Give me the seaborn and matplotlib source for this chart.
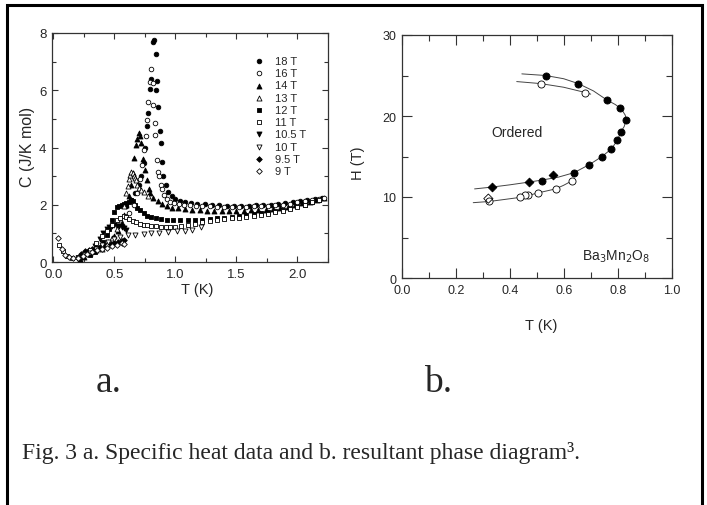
import numpy as np
import pandas as pd
import matplotlib
matplotlib.use("Agg")
import matplotlib.pyplot as plt
import matplotlib.patches as mpatches
from matplotlib.ticker import MultipleLocator
import seaborn as sns

sns.set_style("ticks")
plt.rcParams['font.family'] = ['Liberation Sans', 'DejaVu Sans']

# ---------------- Panel a: specific heat data ----------------
legend_labels = ["18 T", "16 T", "14 T", "13 T", "12 T", "11 T", "10.5 T", "10 T", "9.5 T", "9 T"]

t18 = [0.60, 0.64, 0.67, 0.70, 0.72, 0.74, 0.755, 0.77, 0.776, 0.79, 0.80, 0.815, 0.822, 0.838, 0.844,
       0.849, 0.857, 0.871, 0.879, 0.89, 0.90, 0.92, 0.94, 0.97, 1.00, 1.04, 1.08, 1.13, 1.18, 1.24,
       1.30, 1.36, 1.42, 1.48, 1.54, 1.60, 1.66, 1.72, 1.78, 1.84, 1.90, 1.96, 2.02, 2.08, 2.14, 2.20]
c18 = [1.95, 2.15, 2.40, 2.70, 3.00, 3.45, 4.00, 4.75, 5.20, 6.05, 6.40, 7.70, 7.75, 7.27, 6.01,
       6.34, 5.40, 4.59, 4.17, 3.50, 3.00, 2.70, 2.45, 2.30, 2.20, 2.12, 2.08, 2.05, 2.03, 2.01,
       2.00, 1.98, 1.97, 1.96, 1.96, 1.97, 1.98, 1.99, 2.00, 2.02, 2.05, 2.08, 2.12, 2.16, 2.20, 2.25]

t16 = [0.62, 0.66, 0.69, 0.71, 0.73, 0.745, 0.76, 0.77, 0.78, 0.79, 0.803, 0.816, 0.818, 0.833, 0.836,
       0.85, 0.86, 0.87, 0.88, 0.89, 0.91, 0.93, 0.96, 0.99, 1.03, 1.07, 1.12, 1.17, 1.22, 1.28,
       1.34, 1.40, 1.46, 1.52, 1.58, 1.64, 1.70, 1.76, 1.82, 1.88, 1.94, 2.00, 2.06, 2.12, 2.18, 2.22]
c16 = [1.70, 2.00, 2.40, 2.90, 3.40, 3.90, 4.40, 4.95, 5.60, 6.30, 6.75, 6.27, 5.49, 4.85, 4.44,
       3.55, 3.15, 3.00, 2.70, 2.55, 2.35, 2.20, 2.10, 2.05, 2.02, 2.00, 1.98, 1.97, 1.96, 1.94,
       1.93, 1.92, 1.92, 1.92, 1.93, 1.94, 1.95, 1.96, 1.98, 2.00, 2.04, 2.08, 2.12, 2.16, 2.20, 2.25]

t14 = [0.22, 0.25, 0.30, 0.35, 0.40, 0.45, 0.50, 0.53, 0.56, 0.58, 0.60, 0.62, 0.64, 0.653, 0.665,
       0.68, 0.69, 0.70, 0.71, 0.72, 0.735, 0.75, 0.765, 0.784, 0.795, 0.82, 0.857, 0.89, 0.93, 0.97,
       1.02, 1.08, 1.14, 1.20, 1.26, 1.32, 1.38, 1.44, 1.50, 1.56, 1.62, 1.68, 1.74, 1.80, 1.86, 1.92,
       1.98, 2.04, 2.10, 2.16, 2.22]
c14 = [0.12, 0.18, 0.30, 0.42, 0.55, 0.70, 0.90, 1.10, 1.35, 1.65, 2.00, 2.30, 2.70, 3.10, 3.62,
       4.10, 4.30, 4.50, 4.40, 4.15, 3.60, 3.20, 2.85, 2.55, 2.40, 2.25, 2.12, 2.02, 1.95, 1.90,
       1.87, 1.84, 1.82, 1.80, 1.79, 1.78, 1.78, 1.78, 1.78, 1.79, 1.80, 1.81, 1.82, 1.84, 1.87, 1.92,
       1.98, 2.05, 2.10, 2.16, 2.22]

t13 = [0.40, 0.44, 0.48, 0.52, 0.55, 0.58, 0.60, 0.61, 0.62, 0.63, 0.64, 0.65, 0.66, 0.67, 0.68,
       0.69, 0.70, 0.72, 0.747, 0.78]
c13 = [0.45, 0.62, 0.85, 1.15, 1.50, 1.95, 2.40, 2.65, 2.90, 3.05, 3.15, 3.10, 3.00, 2.95, 2.85,
       2.70, 2.60, 2.50, 2.45, 2.30]

t12 = [0.30, 0.34, 0.38, 0.41, 0.44, 0.46, 0.48, 0.50, 0.52, 0.54, 0.56, 0.58, 0.60, 0.62, 0.64,
       0.655, 0.67, 0.69, 0.71, 0.74, 0.77, 0.80, 0.84, 0.88, 0.93, 0.98, 1.04, 1.10, 1.16, 1.22,
       1.28, 1.34, 1.40, 1.46, 1.52, 1.58, 1.64, 1.70, 1.76, 1.82, 1.88, 1.94, 2.00, 2.06, 2.12, 2.18]
c12 = [0.25, 0.35, 0.50, 0.70, 0.95, 1.15, 1.45, 1.75, 1.92, 1.95, 1.98, 2.02, 2.05, 2.10, 2.15,
       2.12, 2.00, 1.90, 1.80, 1.70, 1.62, 1.57, 1.53, 1.50, 1.48, 1.46, 1.46, 1.46, 1.47, 1.48,
       1.50, 1.52, 1.55, 1.57, 1.60, 1.63, 1.66, 1.70, 1.74, 1.78, 1.83, 1.88, 1.94, 2.00, 2.08, 2.15]

t11 = [0.05, 0.08, 0.11, 0.15, 0.20, 0.25, 0.30, 0.35, 0.40, 0.44, 0.48, 0.52, 0.55, 0.58, 0.60,
       0.62, 0.65, 0.68, 0.71, 0.74, 0.77, 0.80, 0.84, 0.88, 0.92, 0.96, 1.00, 1.05, 1.10, 1.16,
       1.22, 1.28, 1.34, 1.40, 1.46, 1.52, 1.58, 1.64, 1.70, 1.76, 1.82, 1.88, 1.94, 2.00, 2.06,
       2.12, 2.18]
c11 = [0.60, 0.38, 0.22, 0.15, 0.18, 0.28, 0.42, 0.65, 0.90, 1.10, 1.28, 1.45, 1.55, 1.60, 1.56,
       1.50, 1.42, 1.38, 1.33, 1.30, 1.28, 1.27, 1.25, 1.24, 1.23, 1.23, 1.24, 1.26, 1.30, 1.34,
       1.38, 1.42, 1.46, 1.49, 1.52, 1.55, 1.58, 1.61, 1.65, 1.69, 1.74, 1.79, 1.85, 1.92, 2.00,
       2.08, 2.15]

t105 = [0.25, 0.30, 0.34, 0.38, 0.41, 0.44, 0.46, 0.48, 0.50, 0.52, 0.54, 0.56, 0.58, 0.60]
c105 = [0.20, 0.35, 0.55, 0.80, 1.00, 1.15, 1.22, 1.27, 1.28, 1.27, 1.25, 1.22, 1.18, 1.12]

t10 = [0.20, 0.25, 0.30, 0.35, 0.40, 0.45, 0.50, 0.55, 0.61, 0.67, 0.74, 0.80, 0.87, 0.94, 1.01,
       1.08, 1.14, 1.21]
c10 = [0.15, 0.20, 0.32, 0.45, 0.58, 0.70, 0.80, 0.88, 0.93, 0.96, 0.98, 1.00, 1.03, 1.06, 1.08,
       1.10, 1.12, 1.23]

t95 = [0.20, 0.23, 0.26, 0.29, 0.32, 0.35, 0.38, 0.41, 0.44, 0.47, 0.50, 0.53, 0.56, 0.58]
c95 = [0.15, 0.28, 0.38, 0.43, 0.47, 0.50, 0.53, 0.56, 0.60, 0.63, 0.66, 0.70, 0.74, 0.78]

t9 = [0.04, 0.07, 0.10, 0.13, 0.16, 0.20, 0.24, 0.28, 0.32, 0.36, 0.40, 0.44, 0.48, 0.52, 0.56, 0.58]
c9 = [0.85, 0.45, 0.25, 0.17, 0.15, 0.15, 0.20, 0.28, 0.36, 0.42, 0.46, 0.50, 0.55, 0.60, 0.65, 0.62]

series_T = [t18, t16, t14, t13, t12, t11, t105, t10, t95, t9]
series_C = [c18, c16, c14, c13, c12, c11, c105, c10, c95, c9]
markers = ["o", "o", "^", "^", "s", "s", "v", "v", "D", "D"]
filled = [True, False, True, False, True, False, True, False, True, False]
sizes = [11, 11, 13, 13, 10, 10, 13, 13, 8, 8]

# ---------------- Panel b: phase diagram ----------------
pb_filled_circ_T = [0.533, 0.654, 0.759, 0.809, 0.831, 0.811, 0.799, 0.777, 0.742, 0.695, 0.638, 0.521]
pb_filled_circ_H = [25.0, 24.0, 22.0, 21.0, 19.5, 18.0, 17.0, 15.95, 15.0, 14.0, 13.0, 12.0]
pb_filled_diam_T = [0.333, 0.473, 0.562]
pb_filled_diam_H = [11.2, 11.9, 12.7]
pb_open_circ_T = [0.515, 0.680, 0.631, 0.570, 0.504, 0.469, 0.457, 0.438, 0.325]
pb_open_circ_H = [24.0, 22.9, 12.0, 11.0, 10.5, 10.2, 10.2, 9.95, 9.45]
pb_open_diam_T = [0.321]
pb_open_diam_H = [9.8]

guide1_T = [0.445, 0.533, 0.60, 0.654, 0.71, 0.759, 0.792, 0.815, 0.828, 0.831, 0.824, 0.811, 0.799,
            0.777, 0.742, 0.695, 0.638, 0.58, 0.521, 0.473, 0.40, 0.333, 0.27]
guide1_H = [25.2, 25.0, 24.6, 24.0, 23.1, 22.0, 21.4, 20.8, 20.1, 19.5, 18.7, 18.0, 17.0,
            15.95, 15.0, 14.0, 13.0, 12.45, 12.1, 11.85, 11.5, 11.22, 11.0]
guide2_T = [0.426, 0.515, 0.60, 0.68, 0.70]
guide2_H = [24.25, 24.0, 23.55, 22.9, 22.7]
guide3_T = [0.265, 0.325, 0.438, 0.47, 0.504, 0.570, 0.60, 0.631, 0.64]
guide3_H = [9.3, 9.45, 9.95, 10.2, 10.5, 11.0, 11.45, 12.0, 12.2]

# ---------------- Figure ----------------
W, H = 707, 506
fig = plt.figure(figsize=(W / 100, H / 100), dpi=100)
fig.patch.set_facecolor("white")

def fx(px):
    return px / W

def fy(py):
    return 1 - py / H

axA = fig.add_axes([fx(52), fy(263), (328 - 52) / W, (263 - 34) / H])
axB = fig.add_axes([fx(401.7), fy(279), (671.7 - 401.7) / W, (279 - 36) / H])

for i in range(len(series_T)):
    df = pd.DataFrame({"T": series_T[i], "C": series_C[i]})
    face = "black" if filled[i] else "white"
    sns.scatterplot(data=df, x="T", y="C", ax=axA, marker=markers[i], s=sizes[i],
                    color=face, edgecolor="black", linewidth=0.6, label=legend_labels[i],
                    zorder=3 + (0 if filled[i] else 0.5))

axA.set_xlim(-0.01, 2.25)
axA.set_ylim(0, 8)
axA.xaxis.set_major_locator(MultipleLocator(0.5))
axA.xaxis.set_minor_locator(MultipleLocator(0.25))
axA.yaxis.set_major_locator(MultipleLocator(2))
axA.yaxis.set_minor_locator(MultipleLocator(1))
axA.xaxis.set_major_formatter(matplotlib.ticker.FormatStrFormatter("%.1f"))
axA.tick_params(which="both", direction="in", top=True, right=True, labelsize=9.5,
                color="#333333", width=0.8)
axA.tick_params(which="major", length=4.5, pad=4)
axA.tick_params(which="minor", length=3)
axA.set_xlabel("T (K)", fontsize=10.5)
axA.set_ylabel("C (J/K mol)", fontsize=11.5)
axA.xaxis.set_label_coords((197 - 52) / 276, -(283 - 263) / 229)
axA.yaxis.set_label_coords(-(52 - 35) / 276, (263 - 147) / 229)

leg = axA.legend(loc="upper left", bbox_to_anchor=((255 - 52) / 276, (263 - 57) / 229),
                 frameon=False, fontsize=8, handlelength=0.8, handletextpad=1.0,
                 labelspacing=0.2, borderpad=0, borderaxespad=0, markerscale=1.0)

# panel b
sns.lineplot(x=guide1_T, y=guide1_H, sort=False, ax=axB, color="#444444", lw=0.7, zorder=2)
sns.lineplot(x=guide2_T, y=guide2_H, sort=False, ax=axB, color="#444444", lw=0.7, zorder=2)
sns.lineplot(x=guide3_T, y=guide3_H, sort=False, ax=axB, color="#444444", lw=0.7, zorder=2)
sns.scatterplot(x=pb_filled_circ_T, y=pb_filled_circ_H, ax=axB, marker="o", s=26,
                color="black", edgecolor="black", linewidth=0.6, zorder=3)
sns.scatterplot(x=pb_filled_diam_T, y=pb_filled_diam_H, ax=axB, marker="D", s=20,
                color="black", edgecolor="black", linewidth=0.6, zorder=3)
sns.scatterplot(x=pb_open_circ_T, y=pb_open_circ_H, ax=axB, marker="o", s=26,
                color="white", edgecolor="black", linewidth=0.6, zorder=3)
sns.scatterplot(x=pb_open_diam_T, y=pb_open_diam_H, ax=axB, marker="D", s=22,
                color="none", edgecolor="black", linewidth=0.6, zorder=4)

axB.set_xlim(0, 1)
axB.set_ylim(0, 30)
axB.xaxis.set_major_locator(MultipleLocator(0.2))
axB.xaxis.set_minor_locator(MultipleLocator(0.1))
axB.yaxis.set_major_locator(MultipleLocator(10))
axB.yaxis.set_minor_locator(MultipleLocator(5))
axB.xaxis.set_major_formatter(matplotlib.ticker.FormatStrFormatter("%.1f"))
axB.tick_params(which="both", direction="in", top=True, right=True, labelsize=9,
                color="#333333", width=0.8)
axB.tick_params(which="major", length=7, pad=4)
axB.tick_params(which="minor", length=4)
axB.set_xlabel("T (K)", fontsize=10.5)
axB.set_ylabel("H (T)", fontsize=10.5)
axB.xaxis.set_label_coords((541 - 401.7) / 270, -(319 - 279) / 243)
axB.yaxis.set_label_coords(-(401.7 - 365) / 270, (279 - 163) / 243)
axB.text(0.427, 18.0, "Ordered", fontsize=10, ha="center", va="center")
axB.text(0.92, 2.7, "Ba$_3$Mn$_2$O$_8$", fontsize=10, ha="right", va="center")

for ax in (axA, axB):
    for sp in ax.spines.values():
        sp.set_color("#333333")
        sp.set_linewidth(0.9)

# letters and caption
serif = ["Liberation Serif", "DejaVu Serif"]
fig.text(fx(96), fy(383), "a.", fontsize=27, family=serif, ha="left", va="center")
fig.text(fx(424), fy(383), "b.", fontsize=27, family=serif, ha="left", va="center")
fig.text(fx(22), fy(453), "Fig. 3 a. Specific heat data and b. resultant phase diagram\u00b3.",
         fontsize=17, family=serif, ha="left", va="center")

# outer frame
frame = mpatches.Rectangle((fx(7), fy(540)), fx(702) - fx(7), fy(6) - fy(540),
                           transform=fig.transFigure, fill=False, edgecolor="black",
                           linewidth=2.2, clip_on=False)
fig.patches.append(frame)

fig.savefig("out.png", dpi=100, facecolor="white")
